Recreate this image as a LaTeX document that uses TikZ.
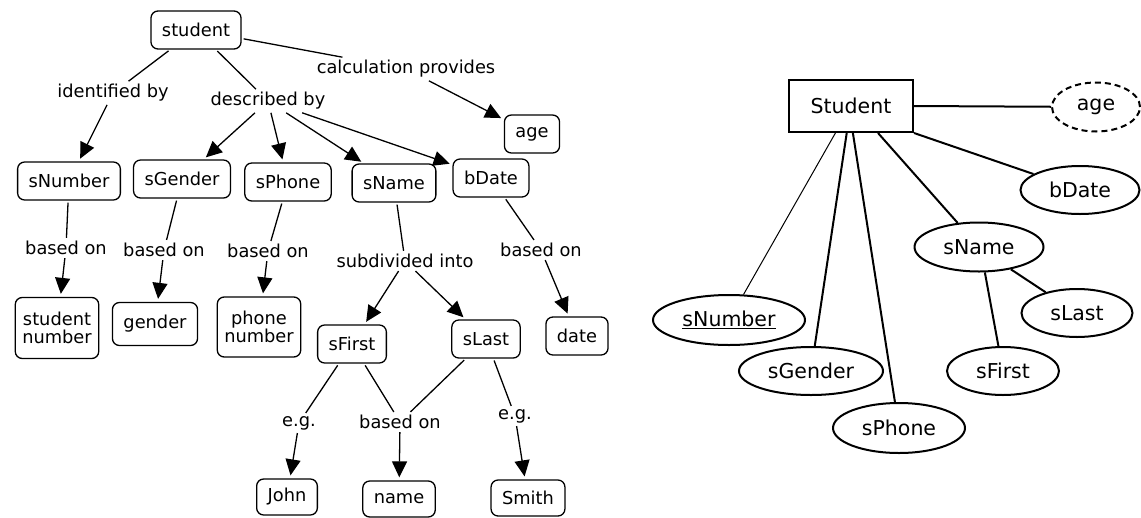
\documentclass[tikz,border=0pt]{standalone}
\usepackage{fontspec}
\setmainfont{DejaVu Sans}
\usetikzlibrary{arrows.meta,shapes.geometric}
\tikzset{
  cbox/.style={draw,rounded corners=7pt,line width=1.3pt,minimum height=38pt,inner xsep=11pt,inner ysep=4pt,align=center,font=\fontsize{17.8}{21}\selectfont},
  clab/.style={inner sep=3pt,font=\fontsize{17.8}{21}\selectfont},
  cline/.style={line width=1.3pt,shorten <=2pt},
  carr/.style={line width=1.3pt,-{Triangle[length=16pt,width=15pt]},shorten >=3pt},
  erent/.style={draw,line width=2pt,minimum width=124pt,minimum height=52pt,font=\fontsize{20.5}{24}\selectfont},
  eratt/.style={draw,ellipse,line width=2pt,inner sep=0pt,font=\fontsize{20.5}{24}\selectfont},
  erline/.style={line width=2pt},
}
\begin{document}
\begin{tikzpicture}[x=1pt,y=-1pt]
\useasboundingbox (0,0) rectangle (1141,517);
% ---------- concept map ----------
\node[cbox] (student) at (196,30) {student};
\node[clab] (idby) at (113,93) {identified by};
\node[clab] (descby) at (268,101) {described by};
\node[clab] (calc) at (406,69) {calculation provides};
\node[cbox] (age) at (532,134) {age};
\node[cbox] (sNumber) at (69,181) {sNumber};
\node[cbox] (sGender) at (182,179) {sGender};
\node[cbox] (sPhone) at (288,182) {sPhone};
\node[cbox] (sName) at (394,183) {sName};
\node[cbox] (bDate) at (491,178) {bDate};
\node[clab] (bo1) at (66,248) {based on};
\node[clab] (bo2) at (164,250) {based on};
\node[clab] (bo3) at (268,251) {based on};
\node[clab] (subd) at (405,261) {subdivided into};
\node[clab] (bo4) at (541,250) {based on};
\node[cbox,minimum height=61pt,inner xsep=7pt] (stnum) at (57,328) {student\\[-3pt]number};
\node[cbox,minimum height=43pt] (gender) at (155,324) {gender};
\node[cbox,minimum height=60pt,inner xsep=7pt] (phnum) at (259,327) {phone\\[-3pt]number};
\node[cbox] (sFirst) at (352,344) {sFirst};
\node[cbox] (sLast) at (486,339) {sLast};
\node[cbox] (date) at (577,336) {date};
\node[clab] (eg1) at (299,423) {e.g.};
\node[clab] (bo5) at (400,422) {based on};
\node[clab] (eg2) at (515,416) {e.g.};
\node[cbox,minimum height=36pt] (john) at (287,497) {John};
\node[cbox,minimum height=36pt] (name) at (399,499) {name};
\node[cbox,minimum height=36pt] (smith) at (528,498) {Smith};

\draw[cline] (student) -- (idby);
\draw[carr] (idby) -- (sNumber);
\draw[cline] (student) -- (descby);
\draw[carr] (descby) -- (sGender);
\draw[carr] (descby) -- (sPhone);
\draw[carr] (descby) -- (sName);
\draw[carr] (descby) -- (bDate);
\draw[cline] (student) -- (calc);
\draw[carr] (calc) -- (age);
\draw[cline] (sNumber) -- (bo1);
\draw[carr] (bo1) -- (stnum);
\draw[cline] (sGender) -- (bo2);
\draw[carr] (bo2) -- (gender);
\draw[cline] (sPhone) -- (bo3);
\draw[carr] (bo3) -- (phnum);
\draw[cline] (sName) -- (subd);
\draw[carr] (subd) -- (sFirst);
\draw[carr] (subd) -- (sLast);
\draw[cline] (bDate) -- (bo4);
\draw[carr] (bo4) -- (date);
\draw[cline] (sFirst) -- (eg1);
\draw[carr] (eg1) -- (john);
\draw[cline] (sFirst) -- (bo5);
\draw[cline] (sLast) -- (bo5);
\draw[carr] (bo5) -- (name);
\draw[cline] (sLast) -- (eg2);
\draw[carr] (eg2) -- (smith);

% ---------- ER diagram ----------
\node[erent] (S) at (851,106) {Student};
\node[eratt,dashed,dash pattern=on 6pt off 4pt,minimum width=88pt,minimum height=49pt] (eage) at (1096,107) {age};
\node[eratt,minimum width=119pt,minimum height=48pt] (ebDate) at (1080,190) {bDate};
\node[eratt,minimum width=129pt,minimum height=49pt] (esName) at (979,247) {sName};
\node[eratt,minimum width=111pt,minimum height=48pt] (esLast) at (1077,313) {sLast};
\node[eratt,minimum width=112pt,minimum height=48pt] (esFirst) at (1003,371) {sFirst};
\node[eratt,minimum width=152pt,minimum height=50pt] (esNumber) at (729,320) {\underline{sNumber}};
\node[eratt,minimum width=144pt,minimum height=48pt] (esGender) at (811,371) {sGender};
\node[eratt,minimum width=132pt,minimum height=50pt] (esPhone) at (899,428) {sPhone};

\draw[erline] (S.east) -- (eage);
\draw[line width=1pt] (S.240) -- (esNumber);
\draw[erline] (S.261) -- (esGender);
\draw[erline] (S.274) -- (esPhone);
\draw[erline] (S.315) -- (esName);
\draw[erline] (S.south east) -- (ebDate);
\draw[erline] (esName.-77) -- (esFirst);
\draw[erline] (esName.-35) -- (esLast);
\end{tikzpicture}
\end{document}
